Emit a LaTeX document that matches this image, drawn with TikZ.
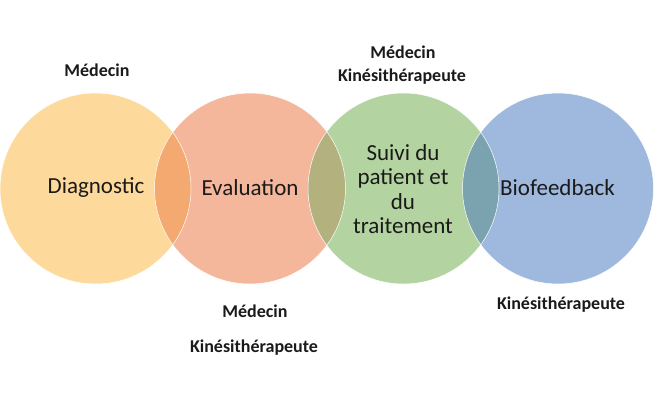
\documentclass[tikz,border=0pt]{standalone}
\usepackage{fontspec}
\setmainfont{Carlito}
\definecolor{cyel}{HTML}{FDDA9B}
\definecolor{csal}{HTML}{F5B79C}
\definecolor{cgrn}{HTML}{B3D4A0}
\definecolor{cblu}{HTML}{9EB8DE}
\definecolor{oys}{HTML}{F3A96F}
\definecolor{osg}{HTML}{B3B27F}
\definecolor{ogb}{HTML}{7BA3AF}
\definecolor{txt}{HTML}{1A1A1A}
\tikzset{
  inner/.style={font=\fontsize{23}{24.5}\selectfont, text=txt, align=center, inner sep=0pt},
  role/.style={font=\fontsize{18}{20}\selectfont\bfseries, text=txt, inner sep=0pt},
  rim/.style={draw=white, line width=0.5pt}
}
\begin{document}
\begin{tikzpicture}[x=1pt,y=-1pt]
\useasboundingbox (0,0) rectangle (655,400);
\fill[white] (0,0) rectangle (655,400);
\def\R{95.5}
\coordinate (cy) at (95.5,188.5);
\coordinate (cs) at (250,188.5);
\coordinate (cg) at (403.5,188.5);
\coordinate (cb) at (558,188.5);
\fill[cyel] (cy) circle (\R);
\fill[csal] (cs) circle (\R);
\fill[cgrn] (cg) circle (\R);
\fill[cblu] (cb) circle (\R);
\begin{scope}\clip (cy) circle (\R); \fill[oys] (cs) circle (\R);\end{scope}
\begin{scope}\clip (cs) circle (\R); \fill[osg] (cg) circle (\R);\end{scope}
\begin{scope}\clip (cg) circle (\R); \fill[ogb] (cb) circle (\R);\end{scope}
\draw[rim] (cy) circle (\R);
\draw[rim] (cs) circle (\R);
\draw[rim] (cg) circle (\R);
\draw[rim] (cb) circle (\R);
\node[inner] (diag) at (96,188) {Diagnostic};
\node[inner] (eval) at (250,188) {Evaluation};
\node[inner] (suivi) at (403,189) {Suivi du\\patient et\\du\\traitement};
\node[inner] (bio) at (557.5,188) {Biofeedback};
\node[role] (m1) at (97,70) {Médecin};
\node[role] (m2) at (403,52) {Médecin};
\node[role] (k2) at (402,77) {Kinésithérapeute};
\node[role] (m3) at (255,311) {Médecin};
\node[role] (k3) at (254,348) {Kinésithérapeute};
\node[role] (k4) at (561,305) {Kinésithérapeute};
\end{tikzpicture}
\end{document}
